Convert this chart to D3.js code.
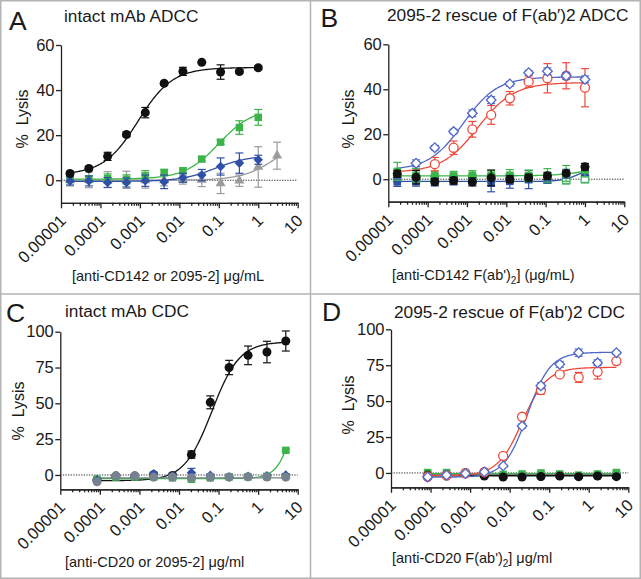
<!DOCTYPE html>
<html><head><meta charset="utf-8">
<script src="https://cdn.jsdelivr.net/npm/d3@7"></script>
<style>
body{margin:0;background:#fff}
svg{display:block}
text{font-family:"Liberation Sans",Arial,sans-serif;fill:#1a1a1a}
</style>
</head><body>
<svg id="c" width="641" height="579"></svg>
<script>
// ---------- DATA ----------
const xTickValues = [1e-5, 1e-4, 1e-3, 1e-2, 1e-1, 1, 10];
const xTickLabels = ["0.00001", "0.0001", "0.001", "0.01", "0.1", "1", "10"];
const yTicksADCC = [0, 20, 40, 60];
const yTicksCDC = [0, 25, 50, 75, 100];

const concADCC = [0.0000169, 0.0000508, 0.000152, 0.000457, 0.00137, 0.00412, 0.0123, 0.037, 0.111, 0.333, 1];
const concADCCgray = [0.0000169, 0.0000508, 0.000152, 0.000457, 0.00137, 0.00412, 0.0123, 0.037, 0.111, 0.333, 1, 3];
const concCDC = [0.0000847, 0.000254, 0.000762, 0.00229, 0.00686, 0.0206, 0.0617, 0.185, 0.556, 1.67, 5];

// Panel A
const aBlack = [3.0, 5.2, 10.6, 20.3, 30.0, 43.0, 48.3, 52.3, 48.0, 48.2, 49.9];
const aBlackErr = [0.8, 0.8, 1.8, 1.0, 2.3, 0.8, 1.8, 0.5, 3.2, 0.8, 0.8];
const aGreen = [0.4, 0.5, 0.8, 0.4, 1.8, 3.5, 4.2, 9.4, 16.9, 23.4, 27.9];
const aGreenErr = [1.0, 1.5, 2.0, 2.0, 2.5, 1.2, 1.2, 1.0, 1.0, 3.0, 3.5];
const aBlue = [-0.3, -0.3, -1.0, -1.0, -0.2, -0.7, 1.1, 2.3, 6.1, 7.6, 9.1];
const aBlueErr = [1.8, 2.2, 2.2, 2.0, 2.5, 3.0, 2.0, 2.5, 3.8, 4.5, 2.0];
const aGray = [0.0, 0.2, 0.3, 0.2, 0.0, 0.0, 0.3, 0.2, -1.4, -0.2, 5.9, 10.9];
const aGrayErr = [2.5, 3.5, 3.5, 3.8, 3.5, 2.5, 2.0, 3.0, 4.5, 2.5, 9.0, 6.0];
// fitted curves: [bottom, top, EC50, hill]
const aBlackFit = [2.5, 50.0, 0.0009, 1.0];
const aGreenFit = [0.5, 32.0, 0.1, 1.0];
const aBlueFit = [-0.5, 11.0, 0.08, 1.0];
const aGrayFit = [0.0, 20.0, 3.0, 1.0];

// Panel B
const bRed = [null, null, 6.7, 14.0, 22.2, 28.6, 36.0, 43.4, 44.9, 46.0, 40.7];
const bRedErr = [0, 0, 3.0, 3.0, 3.5, 4.2, 3.0, 2.5, 6.5, 5.8, 8.5];
const bBlueOpen = [null, 7.1, 14.0, 21.2, 29.3, 35.2, 42.4, 47.4, 48.0, 46.0, 44.4];
const bBlueOpenErr = [0, 1.5, 1.0, 1.0, 1.5, 1.5, 1.0, 1.0, 1.5, 1.5, 1.5];
const bBlack = [2.4, 0.9, -1.1, -0.6, -1.2, 0.6, 0.0, 0.7, 1.5, 2.6, 5.5];
const bBlackErr = [1.5, 3.0, 1.5, 1.5, 1.8, 3.5, 1.5, 1.5, 1.5, 1.0, 1.5];
const bGreen = [3.5, 1.8, 1.6, 1.5, 1.8, 1.8, 1.8, 1.6, 1.7, 2.6, 4.0];
const bGreenErr = [4.0, 3.0, 2.0, 2.0, 2.0, 2.0, 2.5, 2.5, 3.0, 3.5, 3.0];
const bGreenOpen = [0.5, 0.3, 0.2, 0.3, 0.4, 0.5, 0.4, 0.5, 0.3, -0.2, 0.3];
const bGreenOpenErr = [2.0, 2.0, 2.0, 2.0, 2.0, 2.0, 2.0, 2.0, 2.0, 2.0, 2.0];
const bBlue = [-1.2, -1.1, -1.0, -1.0, -1.0, -1.8, -1.0, -0.2, 0.2, 2.4, 3.0];
const bBlueErr = [2.0, 2.0, 2.0, 1.5, 1.5, 3.8, 3.0, 4.0, 2.0, 2.0, 1.5];
const bRedFit = [3.0, 43.0, 0.0019, 0.95];
const bBlueOpenFit = [4.0, 45.5, 0.0008, 1.0];
const bGreenFit = [1.5, 10.0, 3.0, 1.0];
const bBlueFit = [-1.0, 5.5, 0.7, 2.0];

// Panel C
const cBlack = [-3.5, -0.8, -0.8, 0.2, -0.3, 14.2, 50.7, 75.0, 83.5, 85.8, 93.5];
const cBlackErr = [1.0, 1.0, 1.0, 1.0, 1.0, 2.5, 4.5, 5.0, 6.5, 7.5, 7.0];
const cGreen = [-3.0, -1.5, -1.5, -1.3, -2.0, -3.0, -2.0, -1.3, -1.3, -1.0, 17.2];
const cGreenErr = [1.0, 1.0, 1.0, 1.0, 1.0, 1.0, 1.0, 1.0, 1.0, 1.0, 1.0];
const cBlue = [-3.5, -0.5, -0.6, 0.9, -0.5, 1.6, -0.3, -1.4, -1.0, -0.6, -0.1];
const cBlueErr = [1.0, 1.0, 1.0, 1.0, 1.0, 3.0, 1.0, 1.0, 1.0, 1.0, 1.0];
const cGray = [-4.7, -0.6, -0.5, -1.5, -1.4, -2.0, -1.5, -1.5, -1.3, -1.4, -1.5];
const cGrayErr = [1.0, 1.0, 1.0, 1.0, 1.0, 1.0, 1.0, 1.0, 1.0, 1.0, 1.0];
const cBlackFit = [-4.0, 93.0, 0.068, 1.25];
const cGreenFit = [-2.5, 100.0, 10.0, 2.0];
const cGrayFit = [-2.0, -2.0, 1.0, 1.0];

// Panel D
const dBlueOpen = [-2.8, -1.6, -0.4, 0.7, 4.9, 32.6, 60.7, 75.6, 83.7, 76.7, 83.7];
const dBlueOpenErr = [1.0, 1.0, 1.0, 1.0, 1.0, 1.5, 2.0, 2.0, 2.5, 2.0, 1.0];
const dRed = [-2.5, -1.8, -0.2, 0.5, 11.9, 39.1, 57.7, 68.6, 66.5, 70.4, 77.9];
const dRedErr = [1.0, 1.0, 1.0, 1.0, 1.0, 1.0, 3.0, 1.0, 3.5, 5.0, 1.5];
const dBlack = [-1.5, -1.5, -0.5, -2.1, -2.8, -2.8, -2.5, -2.1, -2.6, -2.1, -2.6];
const dBlackErr = [1.0, 1.0, 1.0, 1.0, 1.0, 1.0, 1.0, 1.0, 1.0, 1.0, 1.0];
const dGreen = [0.3, 0.3, 0.3, -0.3, -1.0, -0.7, 0.0, -0.7, -1.5, -0.7, 0.3];
const dGreenErr = [1.0, 1.0, 1.0, 1.0, 1.0, 1.0, 1.0, 1.0, 1.0, 1.0, 1.0];
const dBlue = [-3.0, -1.0, 0.0, 0.8, -2.0, -2.0, -2.5, -2.0, -2.5, -2.0, -2.0];
const dBlueErr = [1.0, 1.0, 1.0, 1.0, 1.0, 1.0, 1.0, 1.0, 1.0, 1.0, 1.0];
const dBlueOpenFit = [-3.0, 84.0, 0.028, 1.5];
const dRedFit = [-2.0, 73.5, 0.021, 1.4];
const dBlackFit = [-1.8, -1.8, 1.0, 1.0];
const dGreenFit = [-0.5, -0.5, 1.0, 1.0];

// ---------- STYLE ----------
const COL = {black:"#111111", green:"#3bb54a", blue:"#2f50a6", gray:"#9b9b9b", red:"#ee4a3b", blueOpen:"#4f68c8", greenOpen:"#4cb56a", slate:"#76828e"};

const panels = [
  {letter:"A", title:"intact mAb ADCC", x0:61, x1:297.7, yT:45, yB:202.8, yDom:[-10,60], yTicks:yTicksADCC,
   letterPos:[9,29.5], titlePos:[64,21.5], yTitlePos:[28,119], xTitle:["[anti-CD142 or 2095-2] μg/mL"], xTitlePos:[72,281],
   series:[
     {x:concADCCgray, y:aGray, e:aGrayErr, fit:aGrayFit, c:COL.gray, sym:"tri"},
     {x:concADCC, y:aGreen, e:aGreenErr, fit:aGreenFit, c:COL.green, sym:"sq"},
     {x:concADCC, y:aBlue, e:aBlueErr, fit:aBlueFit, c:COL.blue, sym:"dia"},
     {x:concADCC, y:aBlack, e:aBlackErr, fit:aBlackFit, c:COL.black, sym:"circ"}
   ]},
  {letter:"B", title:"2095-2 rescue of F(ab′)2 ADCC", x0:388.3, x1:624.3, yT:44.3, yB:201.7, yDom:[-10,60], yTicks:yTicksADCC,
   letterPos:[320.5,26.5], titlePos:[387,20.5], yTitlePos:[353.5,119], xTitle:"B", xTitlePos:[392,280],
   series:[
     {x:concADCC, y:bGreenOpen, e:bGreenOpenErr, fit:null, c:COL.greenOpen, sym:"sqOpen"},
     {x:concADCC, y:bBlue, e:bBlueErr, fit:bBlueFit, c:COL.blue, sym:"sq"},
     {x:concADCC, y:bGreen, e:bGreenErr, fit:bGreenFit, c:COL.green, sym:"sq"},
     {x:concADCC, y:bBlack, e:bBlackErr, fit:null, c:COL.black, sym:"circ"},
     {x:concADCC, y:bRed, e:bRedErr, fit:bRedFit, c:COL.red, sym:"circOpen"},
     {x:concADCC, y:bBlueOpen, e:bBlueOpenErr, fit:bBlueOpenFit, c:COL.blueOpen, sym:"diaOpen"}
   ]},
  {letter:"C", title:"intact mAb CDC", x0:60.3, x1:297.7, yT:331.7, yB:489.3, yDom:[-10,100], yTicks:yTicksCDC,
   letterPos:[6,321.5], titlePos:[65,316.5], yTitlePos:[24,411], xTitle:["[anti-CD20 or 2095-2] μg/ml"], xTitlePos:[65,567],
   series:[
     {x:concCDC, y:cBlack, e:cBlackErr, fit:cBlackFit, c:COL.black, sym:"circ"},
     {x:concCDC, y:cGreen, e:cGreenErr, fit:cGreenFit, c:COL.green, sym:"sq"},
     {x:concCDC, y:cBlue, e:cBlueErr, fit:null, c:COL.blue, sym:"dia"},
     {x:concCDC, y:cGray, e:cGrayErr, fit:cGrayFit, c:COL.slate, sym:"circ"}
   ]},
  {letter:"D", title:"2095-2 rescue of F(ab′)2 CDC", x0:391, x1:628.3, yT:329.3, yB:487.3, yDom:[-10,100], yTicks:yTicksCDC,
   letterPos:[322,320.5], titlePos:[394,318], yTitlePos:[354,405], xTitle:"D", xTitlePos:[392,563],
   series:[
     {x:concCDC, y:dBlue, e:dBlueErr, fit:null, c:COL.blue, sym:"circ"},
     {x:concCDC, y:dGreen, e:dGreenErr, fit:dGreenFit, c:COL.green, sym:"sq"},
     {x:concCDC, y:dBlack, e:dBlackErr, fit:dBlackFit, c:COL.black, sym:"circ"},
     {x:concCDC, y:dRed, e:dRedErr, fit:dRedFit, c:COL.red, sym:"circOpen"},
     {x:concCDC, y:dBlueOpen, e:dBlueOpenErr, fit:dBlueOpenFit, c:COL.blueOpen, sym:"diaOpen"}
   ]}
];

const svg = d3.select("#c");
svg.append("rect").attr("x",0).attr("y",0).attr("width",641).attr("height",579).attr("fill","#fff");

// frame
const frame = svg.append("g").attr("stroke","#b3b3b3").attr("stroke-width",1.5).attr("fill","none");
frame.append("rect").attr("x",0.75).attr("y",0.75).attr("width",639.5).attr("height",577.5);
frame.append("line").attr("x1",310.5).attr("x2",310.5).attr("y1",0).attr("y2",579);
frame.append("line").attr("x1",0).attr("x2",641).attr("y1",294).attr("y2",294);

function fourPL(p, x){ return p[0] + (p[1]-p[0])/(1+Math.pow(p[2]/x, p[3])); }

function symbolPath(sym){
  if (sym.startsWith("circ")) return d3.symbol(d3.symbolCircle, 64)();
  if (sym.startsWith("sq")) return d3.symbol(d3.symbolSquare, 56)();
  if (sym.startsWith("dia")) return d3.symbol(d3.symbolSquare, 46)();
  if (sym.startsWith("tri")) return d3.symbol(d3.symbolTriangle, 44)();
}

panels.forEach(P => {
  const g = svg.append("g");
  const x = d3.scaleLog().domain([1e-5, 10]).range([P.x0, P.x1]);
  const y = d3.scaleLinear().domain(P.yDom).range([P.yB, P.yT]);

  // panel letter + title
  g.append("text").attr("x",P.letterPos[0]).attr("y",P.letterPos[1]).attr("font-size",26.5).text(P.letter);
  g.append("text").attr("x",P.titlePos[0]).attr("y",P.titlePos[1]).attr("font-size",17.3).text(P.title);

  // y title
  g.append("text").attr("transform",`translate(${P.yTitlePos[0]},${P.yTitlePos[1]}) rotate(-90)`)
    .attr("text-anchor","middle").attr("font-size",16).style("white-space","pre").text("%  Lysis");

  // x title
  const xt = g.append("text").attr("x",P.xTitlePos[0]).attr("y",P.xTitlePos[1]).attr("font-size",14.5);
  if (P.xTitle === "B") {
    xt.append("tspan").text("[anti-CD142 F(ab')");
    xt.append("tspan").attr("font-size",10).attr("dy",4).text("2");
    xt.append("tspan").attr("dy",-4).text("] (μg/mL)");
  } else if (P.xTitle === "D") {
    xt.append("tspan").text("[anti-CD20 F(ab')");
    xt.append("tspan").attr("font-size",10).attr("dy",4).text("2");
    xt.append("tspan").attr("dy",-4).text("] μg/ml");
  } else xt.text(P.xTitle[0]);

  // axes
  const minor = [];
  for (let e=-5; e<1; e++) for (let m=2; m<=9; m++) minor.push(m*Math.pow(10,e));
  const axMinor = d3.axisBottom(x).tickValues(minor).tickSize(3).tickSizeOuter(0).tickFormat("");
  const gxm = g.append("g").attr("transform",`translate(0,${P.yB})`).call(axMinor);
  const axMajor = d3.axisBottom(x).tickValues(xTickValues).tickSize(5.5).tickSizeOuter(0)
    .tickFormat((d,i)=>xTickLabels[i]);
  const gx = g.append("g").attr("transform",`translate(0,${P.yB})`).call(axMajor);
  gx.selectAll("text").attr("font-size",16.5).attr("text-anchor","end")
    .attr("x",0).attr("y",0).attr("dy",0)
    .attr("transform","translate(5.5,19) rotate(-45)")
    .style("font-family","'Liberation Sans',Arial,sans-serif").attr("fill","#1a1a1a");
  const yAx = d3.axisLeft(y).tickValues(P.yTicks).tickSize(5).tickSizeOuter(0);
  const gy = g.append("g").attr("transform",`translate(${P.x0},0)`).call(yAx);
  gy.selectAll("text").attr("font-size",16.5).attr("x",-6.5)
    .style("font-family","'Liberation Sans',Arial,sans-serif").attr("fill","#1a1a1a");
  [gxm,gx,gy].forEach(a=>{ a.selectAll("path,line").attr("stroke","#222").attr("stroke-width",1.3); });

  // zero line
  g.append("line").attr("x1",P.x0).attr("x2",P.x1).attr("y1",y(0)).attr("y2",y(0))
    .attr("stroke","#333").attr("stroke-width",1).attr("stroke-dasharray","1.3,1.3");

  // curves
  P.series.forEach(S => {
    if (!S.fit) return;
    const lo = Math.log10(d3.min(S.x)), hi = Math.log10(d3.max(S.x));
    const pts = d3.range(0, 121).map(k => { const xv = Math.pow(10, lo + (hi-lo)*k/120); return [x(xv), y(fourPL(S.fit, xv))]; });
    g.append("path").attr("d", d3.line()(pts)).attr("fill","none").attr("stroke",S.c)
      .attr("stroke-width", (P.letter==="D" && S.c===COL.black) ? 2.2 : 1.3);
  });

  // points + error bars
  P.series.forEach(S => {
    const sg = g.append("g");
    S.y.forEach((v,i) => {
      if (v === null) return;
      const cx = x(S.x[i]), e = S.e[i];
      if (e > 0.6) {
        const y1 = y(v+e), y2 = y(v-e);
        sg.append("line").attr("x1",cx).attr("x2",cx).attr("y1",y1).attr("y2",y2).attr("stroke",S.c).attr("stroke-width",1.2);
        [y1,y2].forEach(yy => sg.append("line").attr("x1",cx-4).attr("x2",cx+4).attr("y1",yy).attr("y2",yy).attr("stroke",S.c).attr("stroke-width",1.2));
      }
      const open = S.sym.endsWith("Open");
      const p = sg.append("path").attr("d", symbolPath(S.sym))
        .attr("transform", `translate(${cx},${y(v)})` + (S.sym.startsWith("dia") ? " rotate(45)" : ""));
      if (open) p.attr("fill","#fff").attr("stroke",S.c).attr("stroke-width",1.3);
      else p.attr("fill",S.c);
    });
  });
});
</script>
</body></html>
